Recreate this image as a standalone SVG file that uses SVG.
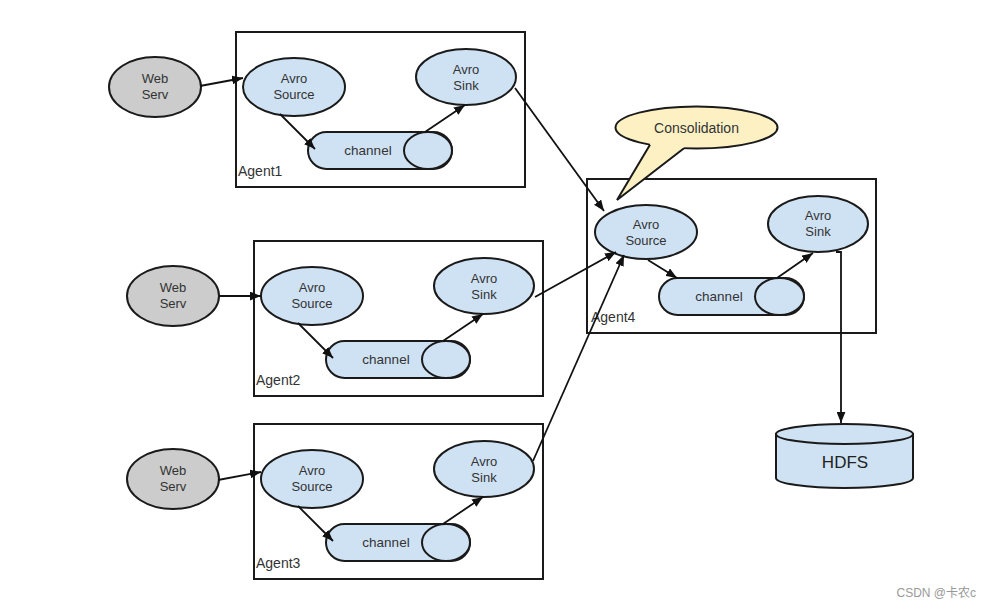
<svg xmlns="http://www.w3.org/2000/svg" width="992" height="609" viewBox="0 0 992 609">
<defs>
<marker id="ah" viewBox="0 0 10 8" refX="10" refY="4" markerWidth="11" markerHeight="9" markerUnits="userSpaceOnUse" orient="auto">
<path d="M0,0 L10,4 L0,8 Z" fill="#111"/>
</marker>
<style>
.box{fill:none;stroke:#1a1a1a;stroke-width:2}
.node{fill:#cfe2f3;stroke:#1a1a1a;stroke-width:2}
.web{fill:#cccccc;stroke:#1a1a1a;stroke-width:2}
.t{font-family:"Liberation Sans",Arial,sans-serif;font-size:13px;fill:#333;text-anchor:middle}
.ch{font-family:"Liberation Sans",Arial,sans-serif;font-size:13.5px;fill:#333;text-anchor:middle}
.lbl{font-family:"Liberation Sans",Arial,sans-serif;font-size:14px;fill:#333}
.edge{fill:none;stroke:#111;stroke-width:1.8;marker-end:url(#ah)}
</style>
</defs>
<rect width="992" height="609" fill="#ffffff"/>

<g id="agent1">
<rect class="box" x="236" y="32" width="289" height="155"/>
<text class="lbl" x="238" y="176">Agent1</text>
</g>
<g id="web1"><ellipse class="web" cx="155" cy="87" rx="46" ry="30"/><text class="t" x="155" y="83">Web</text><text class="t" x="155" y="99">Serv</text></g>
<g id="source1"><ellipse class="node" cx="294" cy="87" rx="51" ry="29"/><text class="t" x="294" y="83">Avro</text><text class="t" x="294" y="99">Source</text></g>
<g id="sink1"><ellipse class="node" cx="466" cy="77" rx="50" ry="28"/><text class="t" x="466" y="74">Avro</text><text class="t" x="466" y="90">Sink</text></g>
<g id="channel1"><rect class="node" x="308" y="132" width="144" height="37" rx="18.5"/><ellipse class="node" cx="428" cy="150.5" rx="24" ry="18.5"/><text class="ch" x="368" y="155">channel</text></g>

<g id="agent2">
<rect class="box" x="254" y="241" width="289" height="155"/>
<text class="lbl" x="256" y="385">Agent2</text>
</g>
<g id="web2"><ellipse class="web" cx="173" cy="296" rx="46" ry="30"/><text class="t" x="173" y="292">Web</text><text class="t" x="173" y="308">Serv</text></g>
<g id="source2"><ellipse class="node" cx="312" cy="296" rx="51" ry="29"/><text class="t" x="312" y="292">Avro</text><text class="t" x="312" y="308">Source</text></g>
<g id="sink2"><ellipse class="node" cx="484" cy="286" rx="50" ry="28"/><text class="t" x="484" y="283">Avro</text><text class="t" x="484" y="299">Sink</text></g>
<g id="channel2"><rect class="node" x="326" y="341" width="144" height="37" rx="18.5"/><ellipse class="node" cx="446" cy="359.5" rx="24" ry="18.5"/><text class="ch" x="386" y="364">channel</text></g>

<g id="agent3">
<rect class="box" x="254" y="424" width="289" height="155"/>
<text class="lbl" x="256" y="568">Agent3</text>
</g>
<g id="web3"><ellipse class="web" cx="173" cy="479" rx="46" ry="30"/><text class="t" x="173" y="475">Web</text><text class="t" x="173" y="491">Serv</text></g>
<g id="source3"><ellipse class="node" cx="312" cy="479" rx="51" ry="29"/><text class="t" x="312" y="475">Avro</text><text class="t" x="312" y="491">Source</text></g>
<g id="sink3"><ellipse class="node" cx="484" cy="469" rx="50" ry="28"/><text class="t" x="484" y="466">Avro</text><text class="t" x="484" y="482">Sink</text></g>
<g id="channel3"><rect class="node" x="326" y="524" width="144" height="37" rx="18.5"/><ellipse class="node" cx="446" cy="542.5" rx="24" ry="18.5"/><text class="ch" x="386" y="547">channel</text></g>

<g id="agent4">
<rect class="box" x="587" y="179" width="289" height="154"/>
<text class="lbl" x="591" y="322">Agent4</text>
</g>
<g id="source4"><ellipse class="node" cx="646" cy="232" rx="51" ry="27"/><text class="t" x="646" y="229">Avro</text><text class="t" x="646" y="245">Source</text></g>
<g id="sink4"><ellipse class="node" cx="818" cy="224" rx="50" ry="28"/><text class="t" x="818" y="220">Avro</text><text class="t" x="818" y="236">Sink</text></g>
<g id="channel4"><rect class="node" x="659" y="278" width="145" height="37" rx="18.5"/><ellipse class="node" cx="779.5" cy="296.5" rx="24.5" ry="18.5"/><text class="ch" x="719" y="301">channel</text></g>

<g id="consolidation">
<ellipse cx="696.5" cy="127.5" rx="81" ry="21" fill="#fdf1c4" stroke="#1a1a1a" stroke-width="2"/>
<polygon points="650,144.7 617,200 684,148.2 684,139 650,138" fill="#fdf1c4"/>
<polyline points="650,144.7 617,200 684,148.2" fill="none" stroke="#1a1a1a" stroke-width="2" stroke-linejoin="miter"/>
<text class="lbl" x="696.5" y="133" text-anchor="middle">Consolidation</text>
</g>

<g id="hdfs">
<path d="M776,434 L776,478 A68.5,10 0 0 0 913,478 L913,434 Z" fill="#cfe2f3" stroke="#1a1a1a" stroke-width="2"/>
<ellipse cx="844.5" cy="434" rx="68.5" ry="10" fill="#cfe2f3" stroke="#1a1a1a" stroke-width="2"/>
<text x="845" y="468" text-anchor="middle" font-family="Liberation Sans, Arial, sans-serif" font-size="17" fill="#222">HDFS</text>
</g>

<g id="connectors">
<line class="edge" x1="200" y1="86" x2="243" y2="78"/>
<line class="edge" x1="280" y1="114" x2="315" y2="149"/>
<line class="edge" x1="425" y1="132" x2="465" y2="105"/>
<line class="edge" x1="219" y1="296" x2="261" y2="296"/>
<line class="edge" x1="298" y1="323" x2="333" y2="358"/>
<line class="edge" x1="443" y1="341" x2="483" y2="314"/>
<line class="edge" x1="218" y1="480" x2="261" y2="472"/>
<line class="edge" x1="298" y1="506" x2="333" y2="541"/>
<line class="edge" x1="443" y1="524" x2="483" y2="497"/>
<line class="edge" x1="515" y1="88" x2="604" y2="211"/>
<line class="edge" x1="535" y1="297" x2="616" y2="252"/>
<line class="edge" x1="533" y1="461" x2="624" y2="255"/>
<line class="edge" x1="648" y1="260" x2="677" y2="278"/>
<line class="edge" x1="777" y1="278" x2="813" y2="253"/>
<path class="edge" d="M836,252 H841 V423"/>
</g>

<text x="976" y="597" text-anchor="end" font-family="Liberation Sans, 'Noto Sans CJK SC', sans-serif" font-size="12" fill="#999">CSDN @卡农c</text>
</svg>
